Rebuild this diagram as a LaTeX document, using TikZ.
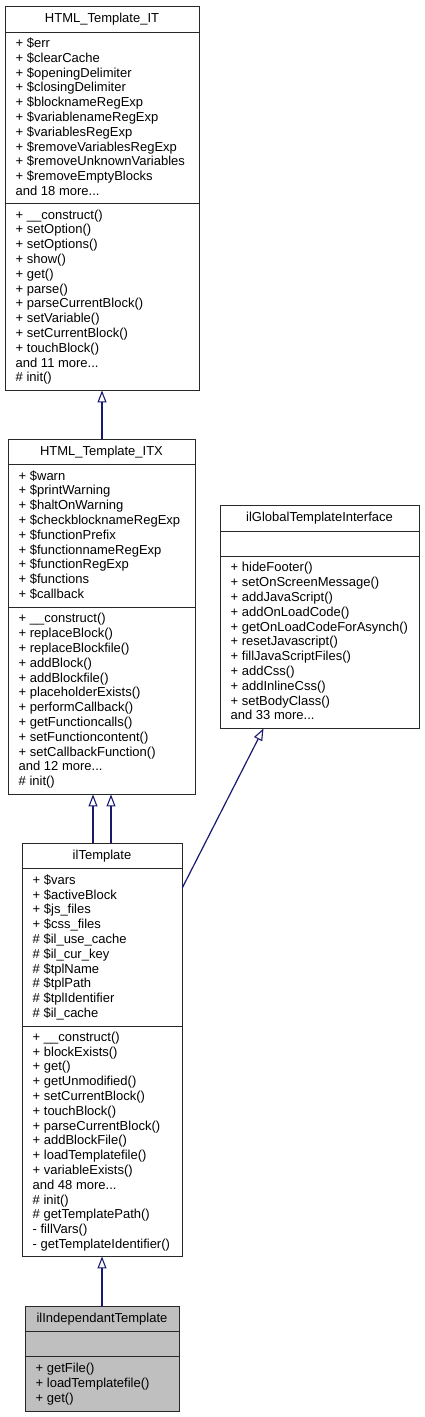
\documentclass[tikz,border=0pt]{standalone}
\usepackage{fontspec}
\setmainfont{Liberation Sans}
\usetikzlibrary{arrows.meta}
\definecolor{edgeblue}{RGB}{25,25,112}
\definecolor{boxline}{RGB}{40,40,40}
\definecolor{leafgray}{RGB}{191,191,191}
\newcommand{\mydots}{...}
\tikzset{
  classbox/.style={draw=boxline, line width=0.9pt, inner sep=0pt, rectangle},
  sepline/.style={draw=boxline, line width=0.9pt},
  txt/.style={anchor=base west, inner sep=0pt, font=\fontsize{13pt}{14.8pt}\selectfont},
  ttl/.style={anchor=base, inner sep=0pt, font=\fontsize{13pt}{14.8pt}\selectfont},
  edge/.style={draw=edgeblue, line width=1.2pt, -{Triangle[length=12pt,width=9pt,fill=white,line width=1.1pt]}},
}
% #1 name, #2 xleft, #3 xright, #4 ytop, #5 ybottom, #6 fill
\newcommand{\mkclass}[6]{%
  \pgfmathsetmacro{\cx}{(#2+#3)/2}%
  \pgfmathsetmacro{\cy}{(#4+#5)/2}%
  \pgfmathsetmacro{\cw}{#3-#2}%
  \pgfmathsetmacro{\ch}{#5-#4}%
  \node[classbox, fill=#6, minimum width=\cw pt, minimum height=\ch pt] (#1) at (\cx,\cy) {};}
% #1 prefix, #2 xleft, #3 y0, #4 y1, #5 n, #6 list
\newcommand{\mkrows}[6]{%
  \foreach \rowtext [count=\i] in {#6}{%
    \pgfmathsetmacro{\yy}{(#3+#4)/2-(#5-1)/2*14.8+(\i-1)*14.8+3.8}%
    \node[txt] (#1\i) at (#2,\yy) {\rowtext};
  }}
\begin{document}
\begin{tikzpicture}[x=1pt,y=-1pt]
\useasboundingbox (0,0) rectangle (424,1417);
\fill[white] (0,0) rectangle (424,1417);

% HTML_Template_IT
\mkclass{it}{5}{199}{6}{390}{white}
\draw[sepline] (5,32) -- (199,32);
\draw[sepline] (5,203.5) -- (199,203.5);
\node[ttl] (itT) at (102,22.6) {HTML\_Template\_IT};
\mkrows{ita}{15.5}{32}{203.5}{11}{+ \$err,+ \$clearCache,+ \$openingDelimiter,+ \$closingDelimiter,+ \$blocknameRegExp,+ \$variablenameRegExp,+ \$variablesRegExp,+ \$removeVariablesRegExp,+ \$removeUnknownVariables,+ \$removeEmptyBlocks,and 18 more\mydots}
\mkrows{itm}{15.5}{203.5}{390}{12}{+ \_\_construct(),+ setOption(),+ setOptions(),+ show(),+ get(),+ parse(),+ parseCurrentBlock(),+ setVariable(),+ setCurrentBlock(),+ touchBlock(),and 11 more\mydots,\# init()}

% HTML_Template_ITX
\mkclass{itx}{8}{195}{439}{794}{white}
\draw[sepline] (8,464) -- (195,464);
\draw[sepline] (8,607) -- (195,607);
\node[ttl] (itxT) at (101.5,455.1) {HTML\_Template\_ITX};
\mkrows{itxa}{18.5}{464}{607}{9}{+ \$warn,+ \$printWarning,+ \$haltOnWarning,+ \$checkblocknameRegExp,+ \$functionPrefix,+ \$functionnameRegExp,+ \$functionRegExp,+ \$functions,+ \$callback}
\mkrows{itxm}{18.5}{607}{794}{12}{+ \_\_construct(),+ replaceBlock(),+ replaceBlockfile(),+ addBlock(),+ addBlockfile(),+ placeholderExists(),+ performCallback(),+ getFunctioncalls(),+ setFunctioncontent(),+ setCallbackFunction(),and 12 more\mydots,\# init()}

% ilGlobalTemplateInterface
\mkclass{iface}{220}{419}{505}{728}{white}
\draw[sepline] (220,531) -- (419,531);
\draw[sepline] (220,556) -- (419,556);
\node[ttl] (ifaceT) at (319.5,521.6) {ilGlobalTemplateInterface};
\mkrows{ifacem}{230.5}{556}{728}{11}{+ hideFooter(),+ setOnScreenMessage(),+ addJavaScript(),+ addOnLoadCode(),+ getOnLoadCodeForAsynch(),+ resetJavascript(),+ fillJavaScriptFiles(),+ addCss(),+ addInlineCss(),+ setBodyClass(),and 33 more\mydots}

% ilTemplate
\mkclass{tpl}{22}{182}{843}{1256}{white}
\draw[sepline] (22,868) -- (182,868);
\draw[sepline] (22,1026) -- (182,1026);
\node[ttl] (tplT) at (102,859.1) {ilTemplate};
\mkrows{tpla}{32.5}{868}{1026}{10}{+ \$vars,+ \$activeBlock,+ \$js\_files,+ \$css\_files,\# \$il\_use\_cache,\# \$il\_cur\_key,\# \$tplName,\# \$tplPath,\# \$tplIdentifier,\# \$il\_cache}
\mkrows{tplm}{32.5}{1026}{1256}{15}{+ \_\_construct(),+ blockExists(),+ get(),+ getUnmodified(),+ setCurrentBlock(),+ touchBlock(),+ parseCurrentBlock(),+ addBlockFile(),+ loadTemplatefile(),+ variableExists(),and 48 more\mydots,\# init(),\# getTemplatePath(),- fillVars(),- getTemplateIdentifier()}

% ilIndependantTemplate
\mkclass{ind}{25}{179}{1306}{1411}{leafgray}
\draw[sepline] (25,1331) -- (179,1331);
\draw[sepline] (25,1356) -- (179,1356);
\node[ttl] (indT) at (102,1322.1) {ilIndependantTemplate};
\mkrows{indm}{35.5}{1356}{1411}{3}{+ getFile(),+ loadTemplatefile(),+ get()}

% inheritance connectors
\draw[edge] (itx.north -| it.south) -- (it.south);
\draw[edge] ([xshift=-9pt]tpl.north) -- ([xshift=-9pt]tpl.north |- itx.south);
\draw[edge] ([xshift=9pt]tpl.north) -- ([xshift=9pt]tpl.north |- itx.south);
\draw[edge] ([yshift=-45pt]tpl.north east) -- ([xshift=-56pt]iface.south);
\draw[edge] (ind.north) -- (tpl.south);
\end{tikzpicture}
\end{document}
